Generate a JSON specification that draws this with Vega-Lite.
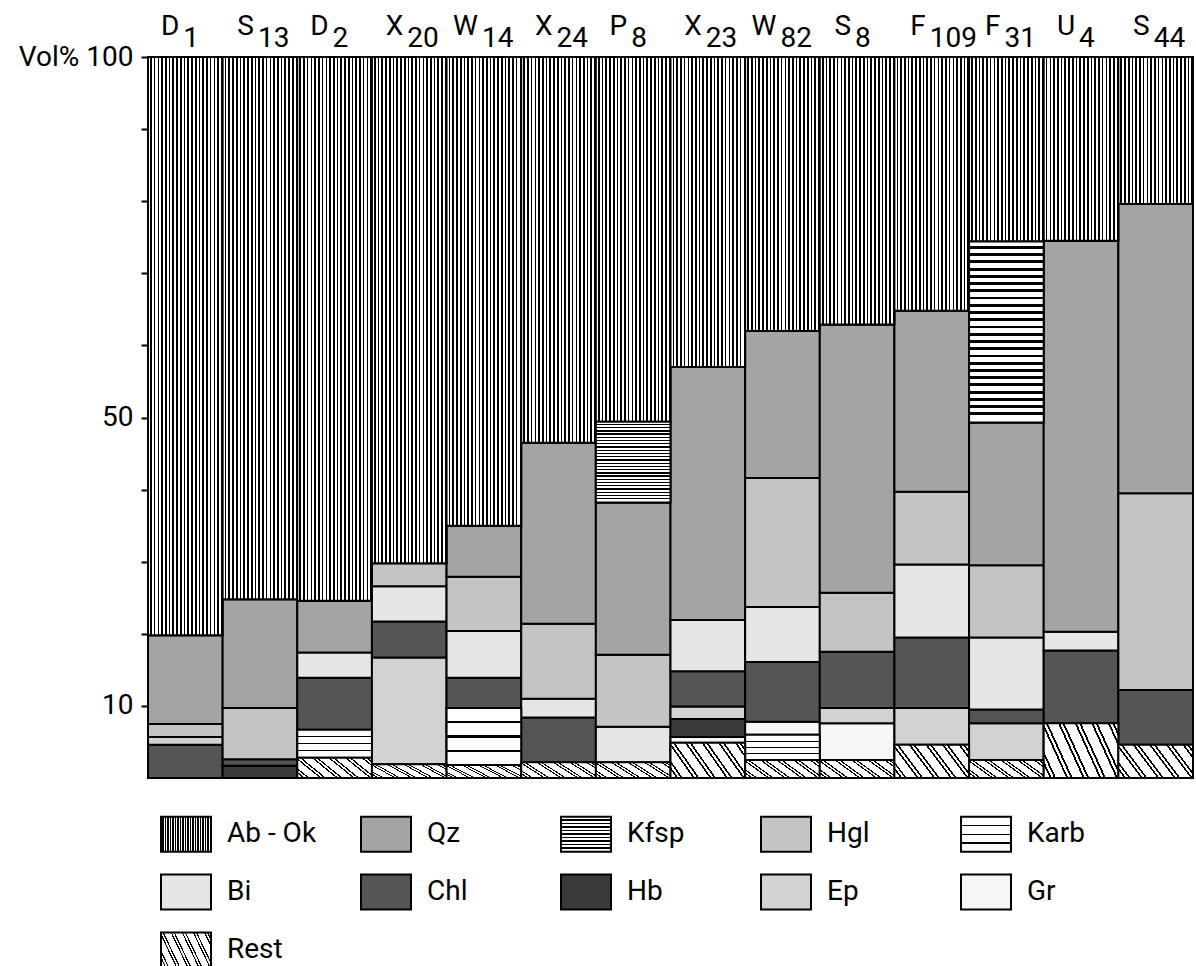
{
  "$schema": "https://vega.github.io/schema/vega-lite/v6.json",
  "width": 1045,
  "height": 721,
  "autosize": {"type": "none"},
  "padding": {"left": 148, "top": 57, "right": 3, "bottom": 188},
  "background": "white",
  "config": {"view": {"stroke": null}, "font": "Roboto"},
  "datasets": {
    "seg": [
      {"sample": "D1", "mineral": "Chl", "value": 4.6},
      {"sample": "D1", "mineral": "Ep", "value": 1.1},
      {"sample": "D1", "mineral": "Hgl", "value": 1.8},
      {"sample": "D1", "mineral": "Qz", "value": 12.3},
      {"sample": "D1", "mineral": "Ab - Ok", "value": 80.2},
      {"sample": "S13", "mineral": "Hb", "value": 1.7},
      {"sample": "S13", "mineral": "Chl", "value": 0.9},
      {"sample": "S13", "mineral": "Hgl", "value": 7.1},
      {"sample": "S13", "mineral": "Qz", "value": 15.1},
      {"sample": "S13", "mineral": "Ab - Ok", "value": 75.2},
      {"sample": "D2", "mineral": "Rest", "value": 2.8},
      {"sample": "D2", "mineral": "Karb", "value": 3.9},
      {"sample": "D2", "mineral": "Chl", "value": 7.2},
      {"sample": "D2", "mineral": "Bi", "value": 3.5},
      {"sample": "D2", "mineral": "Qz", "value": 7.2},
      {"sample": "D2", "mineral": "Ab - Ok", "value": 75.4},
      {"sample": "X20", "mineral": "Rest", "value": 1.9},
      {"sample": "X20", "mineral": "Ep", "value": 14.8},
      {"sample": "X20", "mineral": "Chl", "value": 5.0},
      {"sample": "X20", "mineral": "Bi", "value": 4.9},
      {"sample": "X20", "mineral": "Hgl", "value": 3.2},
      {"sample": "X20", "mineral": "Ab - Ok", "value": 70.2},
      {"sample": "W14", "mineral": "Rest", "value": 1.8},
      {"sample": "W14", "mineral": "Karb", "value": 7.9},
      {"sample": "W14", "mineral": "Chl", "value": 4.2},
      {"sample": "W14", "mineral": "Bi", "value": 6.5},
      {"sample": "W14", "mineral": "Hgl", "value": 7.5},
      {"sample": "W14", "mineral": "Qz", "value": 7.1},
      {"sample": "W14", "mineral": "Ab - Ok", "value": 65.0},
      {"sample": "X24", "mineral": "Rest", "value": 2.2},
      {"sample": "X24", "mineral": "Chl", "value": 6.2},
      {"sample": "X24", "mineral": "Bi", "value": 2.6},
      {"sample": "X24", "mineral": "Hgl", "value": 10.4},
      {"sample": "X24", "mineral": "Qz", "value": 25.1},
      {"sample": "X24", "mineral": "Ab - Ok", "value": 53.5},
      {"sample": "P8", "mineral": "Rest", "value": 2.2},
      {"sample": "P8", "mineral": "Bi", "value": 4.9},
      {"sample": "P8", "mineral": "Hgl", "value": 10.0},
      {"sample": "P8", "mineral": "Qz", "value": 21.1},
      {"sample": "P8", "mineral": "Kfsp", "value": 11.2},
      {"sample": "P8", "mineral": "Ab - Ok", "value": 50.6},
      {"sample": "X23", "mineral": "Rest", "value": 4.9},
      {"sample": "X23", "mineral": "Gr", "value": 0.8},
      {"sample": "X23", "mineral": "Hb", "value": 2.5},
      {"sample": "X23", "mineral": "Ep", "value": 1.7},
      {"sample": "X23", "mineral": "Chl", "value": 4.9},
      {"sample": "X23", "mineral": "Bi", "value": 7.1},
      {"sample": "X23", "mineral": "Qz", "value": 35.1},
      {"sample": "X23", "mineral": "Ab - Ok", "value": 43.0},
      {"sample": "W82", "mineral": "Rest", "value": 2.5},
      {"sample": "W82", "mineral": "Karb", "value": 3.5},
      {"sample": "W82", "mineral": "Gr", "value": 1.8},
      {"sample": "W82", "mineral": "Chl", "value": 8.3},
      {"sample": "W82", "mineral": "Bi", "value": 7.6},
      {"sample": "W82", "mineral": "Hgl", "value": 17.9},
      {"sample": "W82", "mineral": "Qz", "value": 20.4},
      {"sample": "W82", "mineral": "Ab - Ok", "value": 38.0},
      {"sample": "S8", "mineral": "Rest", "value": 2.5},
      {"sample": "S8", "mineral": "Gr", "value": 5.1},
      {"sample": "S8", "mineral": "Ep", "value": 2.1},
      {"sample": "S8", "mineral": "Chl", "value": 7.8},
      {"sample": "S8", "mineral": "Hgl", "value": 8.2},
      {"sample": "S8", "mineral": "Qz", "value": 37.2},
      {"sample": "S8", "mineral": "Ab - Ok", "value": 37.1},
      {"sample": "F109", "mineral": "Rest", "value": 4.6},
      {"sample": "F109", "mineral": "Ep", "value": 5.1},
      {"sample": "F109", "mineral": "Chl", "value": 9.8},
      {"sample": "F109", "mineral": "Bi", "value": 10.1},
      {"sample": "F109", "mineral": "Hgl", "value": 10.1},
      {"sample": "F109", "mineral": "Qz", "value": 25.1},
      {"sample": "F109", "mineral": "Ab - Ok", "value": 35.2},
      {"sample": "F31", "mineral": "Rest", "value": 2.5},
      {"sample": "F31", "mineral": "Ep", "value": 5.1},
      {"sample": "F31", "mineral": "Chl", "value": 1.9},
      {"sample": "F31", "mineral": "Bi", "value": 10.0},
      {"sample": "F31", "mineral": "Hgl", "value": 10.0},
      {"sample": "F31", "mineral": "Qz", "value": 19.8},
      {"sample": "F31", "mineral": "Kfsp", "value": 25.1},
      {"sample": "F31", "mineral": "Ab - Ok", "value": 25.6},
      {"sample": "U4", "mineral": "Rest", "value": 7.6},
      {"sample": "U4", "mineral": "Chl", "value": 10.1},
      {"sample": "U4", "mineral": "Bi", "value": 2.6},
      {"sample": "U4", "mineral": "Qz", "value": 54.2},
      {"sample": "U4", "mineral": "Ab - Ok", "value": 25.5},
      {"sample": "S44", "mineral": "Rest", "value": 4.6},
      {"sample": "S44", "mineral": "Chl", "value": 7.6},
      {"sample": "S44", "mineral": "Hgl", "value": 27.3},
      {"sample": "S44", "mineral": "Qz", "value": 40.1},
      {"sample": "S44", "mineral": "Ab - Ok", "value": 20.4}
    ],
    "lab": [
      {"sample": "D1", "letter": "D", "sub": "1"},
      {"sample": "S13", "letter": "S", "sub": "13"},
      {"sample": "D2", "letter": "D", "sub": "2"},
      {"sample": "X20", "letter": "X", "sub": "20"},
      {"sample": "W14", "letter": "W", "sub": "14"},
      {"sample": "X24", "letter": "X", "sub": "24"},
      {"sample": "P8", "letter": "P", "sub": "8"},
      {"sample": "X23", "letter": "X", "sub": "23"},
      {"sample": "W82", "letter": "W", "sub": "82"},
      {"sample": "S8", "letter": "S", "sub": "8"},
      {"sample": "F109", "letter": "F", "sub": "109"},
      {"sample": "F31", "letter": "F", "sub": "31"},
      {"sample": "U4", "letter": "U", "sub": "4"},
      {"sample": "S44", "letter": "S", "sub": "44"}
    ]
  },
  "layer": [
    {
      "data": {"name": "seg"},
      "transform": [
        {"window": [{"op": "row_number", "as": "idx"}]},
        {"stack": "value", "groupby": ["sample"], "sort": [{"field": "idx", "order": "ascending"}], "as": ["v0", "v1"]}
      ],
      "encoding": {
        "x": {
          "field": "sample", "type": "nominal",
          "sort": ["D1","S13","D2","X20","W14","X24","P8","X23","W82","S8","F109","F31","U4","S44"],
          "scale": {"paddingInner": 0, "paddingOuter": 0},
          "axis": null
        },
        "y": {
          "field": "v1", "type": "quantitative",
          "scale": {"domain": [0, 100], "nice": false},
          "axis": {
            "values": [10, 20, 30, 40, 50, 60, 70, 80, 90, 100],
            "title": null, "grid": false, "domain": false,
            "tickSize": 7, "tickWidth": 2, "tickColor": "black",
            "labelFontSize": 28, "labelFont": "Roboto", "labelColor": "black", "labelPadding": 8,
            "labelExpr": "datum.value == 100 ? 'Vol% 100' : (datum.value == 50 || datum.value == 10) ? datum.label : ''"
          }
        },
        "y2": {"field": "v0"}
      },
      "layer": [
        {
          "mark": {"type": "bar", "stroke": "black", "strokeWidth": 2, "opacity": 1},
          "encoding": {
            "color": {
              "field": "mineral", "type": "nominal",
              "scale": {
                "domain": ["Ab - Ok","Qz","Kfsp","Hgl","Karb","Bi","Chl","Hb","Ep","Gr","Rest"],
                "range": ["url(#gradient_0) #7a7a7a","#a4a4a4","url(#gradient_14) #a8a8a8","#c4c4c4","url(#gradient_16) #f0f0f0","#e6e6e6","#555555","#3a3a3a","#d2d2d2","#f6f6f6","url(#gradient_19) #dddddd"]
              },
              "legend": {
                "orient": "none", "legendX": 12, "legendY": 751,
                "direction": "horizontal", "columns": 5, "gridAlign": "all",
                "title": null, "padding": 0,
                "symbolType": "M-1,-0.7H1V0.7H-1Z", "symbolSize": 2500,
                "symbolStrokeColor": "black", "symbolStrokeWidth": 2, "symbolOpacity": 1,
                "labelFontSize": 28, "labelFont": "Roboto", "labelColor": "black",
                "labelOffset": 15, "columnPadding": 40, "rowPadding": 10, "labelLimit": 300,
                "encode": {
                  "symbols": {
                    "update": {
                      "stroke": {"value": "black"},
                      "strokeWidth": {"value": 2}
                    }
                  }
                }
              }
            }
          }
        },
        {
          "transform": [{"filter": "datum.mineral === 'Ab - Ok'"}],
          "mark": {"type": "bar", "stroke": "black", "strokeWidth": 2, "fill": {"gradient": "linear", "x1": 0, "y1": 0, "x2": 1, "y2": 0, "stops": [
            {"offset": 0, "color": "#fff"}, {"offset": 0.028, "color": "#fff"}, {"offset": 0.028, "color": "#000"}, {"offset": 0.05, "color": "#000"},
            {"offset": 0.05, "color": "#fff"}, {"offset": 0.078, "color": "#fff"}, {"offset": 0.078, "color": "#000"}, {"offset": 0.1, "color": "#000"},
            {"offset": 0.1, "color": "#fff"}, {"offset": 0.128, "color": "#fff"}, {"offset": 0.128, "color": "#000"}, {"offset": 0.15, "color": "#000"},
            {"offset": 0.15, "color": "#fff"}, {"offset": 0.178, "color": "#fff"}, {"offset": 0.178, "color": "#000"}, {"offset": 0.2, "color": "#000"},
            {"offset": 0.2, "color": "#fff"}, {"offset": 0.228, "color": "#fff"}, {"offset": 0.228, "color": "#000"}, {"offset": 0.25, "color": "#000"},
            {"offset": 0.25, "color": "#fff"}, {"offset": 0.278, "color": "#fff"}, {"offset": 0.278, "color": "#000"}, {"offset": 0.3, "color": "#000"},
            {"offset": 0.3, "color": "#fff"}, {"offset": 0.328, "color": "#fff"}, {"offset": 0.328, "color": "#000"}, {"offset": 0.35, "color": "#000"},
            {"offset": 0.35, "color": "#fff"}, {"offset": 0.378, "color": "#fff"}, {"offset": 0.378, "color": "#000"}, {"offset": 0.4, "color": "#000"},
            {"offset": 0.4, "color": "#fff"}, {"offset": 0.428, "color": "#fff"}, {"offset": 0.428, "color": "#000"}, {"offset": 0.45, "color": "#000"},
            {"offset": 0.45, "color": "#fff"}, {"offset": 0.478, "color": "#fff"}, {"offset": 0.478, "color": "#000"}, {"offset": 0.5, "color": "#000"},
            {"offset": 0.5, "color": "#fff"}, {"offset": 0.528, "color": "#fff"}, {"offset": 0.528, "color": "#000"}, {"offset": 0.55, "color": "#000"},
            {"offset": 0.55, "color": "#fff"}, {"offset": 0.578, "color": "#fff"}, {"offset": 0.578, "color": "#000"}, {"offset": 0.6, "color": "#000"},
            {"offset": 0.6, "color": "#fff"}, {"offset": 0.628, "color": "#fff"}, {"offset": 0.628, "color": "#000"}, {"offset": 0.65, "color": "#000"},
            {"offset": 0.65, "color": "#fff"}, {"offset": 0.678, "color": "#fff"}, {"offset": 0.678, "color": "#000"}, {"offset": 0.7, "color": "#000"},
            {"offset": 0.7, "color": "#fff"}, {"offset": 0.728, "color": "#fff"}, {"offset": 0.728, "color": "#000"}, {"offset": 0.75, "color": "#000"},
            {"offset": 0.75, "color": "#fff"}, {"offset": 0.778, "color": "#fff"}, {"offset": 0.778, "color": "#000"}, {"offset": 0.8, "color": "#000"},
            {"offset": 0.8, "color": "#fff"}, {"offset": 0.828, "color": "#fff"}, {"offset": 0.828, "color": "#000"}, {"offset": 0.85, "color": "#000"},
            {"offset": 0.85, "color": "#fff"}, {"offset": 0.878, "color": "#fff"}, {"offset": 0.878, "color": "#000"}, {"offset": 0.9, "color": "#000"},
            {"offset": 0.9, "color": "#fff"}, {"offset": 0.928, "color": "#fff"}, {"offset": 0.928, "color": "#000"}, {"offset": 0.95, "color": "#000"},
            {"offset": 0.95, "color": "#fff"}, {"offset": 0.978, "color": "#fff"}, {"offset": 0.978, "color": "#000"}, {"offset": 1, "color": "#000"}
          ]}},
          "encoding": {}
        },
        {
          "transform": [{"filter": "datum.mineral === 'Kfsp'"}],
          "mark": {"type": "bar", "stroke": "black", "strokeWidth": 2, "fill": {"gradient": "linear", "x1": 0, "y1": 0, "x2": 0, "y2": 1, "stops": [
            {"offset": 0, "color": "#fff"}, {"offset": 0.024, "color": "#fff"}, {"offset": 0.024, "color": "#000"}, {"offset": 0.04, "color": "#000"},
            {"offset": 0.04, "color": "#fff"}, {"offset": 0.064, "color": "#fff"}, {"offset": 0.064, "color": "#000"}, {"offset": 0.08, "color": "#000"},
            {"offset": 0.08, "color": "#fff"}, {"offset": 0.104, "color": "#fff"}, {"offset": 0.104, "color": "#000"}, {"offset": 0.12, "color": "#000"},
            {"offset": 0.12, "color": "#fff"}, {"offset": 0.144, "color": "#fff"}, {"offset": 0.144, "color": "#000"}, {"offset": 0.16, "color": "#000"},
            {"offset": 0.16, "color": "#fff"}, {"offset": 0.184, "color": "#fff"}, {"offset": 0.184, "color": "#000"}, {"offset": 0.2, "color": "#000"},
            {"offset": 0.2, "color": "#fff"}, {"offset": 0.224, "color": "#fff"}, {"offset": 0.224, "color": "#000"}, {"offset": 0.24, "color": "#000"},
            {"offset": 0.24, "color": "#fff"}, {"offset": 0.264, "color": "#fff"}, {"offset": 0.264, "color": "#000"}, {"offset": 0.28, "color": "#000"},
            {"offset": 0.28, "color": "#fff"}, {"offset": 0.304, "color": "#fff"}, {"offset": 0.304, "color": "#000"}, {"offset": 0.32, "color": "#000"},
            {"offset": 0.32, "color": "#fff"}, {"offset": 0.344, "color": "#fff"}, {"offset": 0.344, "color": "#000"}, {"offset": 0.36, "color": "#000"},
            {"offset": 0.36, "color": "#fff"}, {"offset": 0.384, "color": "#fff"}, {"offset": 0.384, "color": "#000"}, {"offset": 0.4, "color": "#000"},
            {"offset": 0.4, "color": "#fff"}, {"offset": 0.424, "color": "#fff"}, {"offset": 0.424, "color": "#000"}, {"offset": 0.44, "color": "#000"},
            {"offset": 0.44, "color": "#fff"}, {"offset": 0.464, "color": "#fff"}, {"offset": 0.464, "color": "#000"}, {"offset": 0.48, "color": "#000"},
            {"offset": 0.48, "color": "#fff"}, {"offset": 0.504, "color": "#fff"}, {"offset": 0.504, "color": "#000"}, {"offset": 0.52, "color": "#000"},
            {"offset": 0.52, "color": "#fff"}, {"offset": 0.544, "color": "#fff"}, {"offset": 0.544, "color": "#000"}, {"offset": 0.56, "color": "#000"},
            {"offset": 0.56, "color": "#fff"}, {"offset": 0.584, "color": "#fff"}, {"offset": 0.584, "color": "#000"}, {"offset": 0.6, "color": "#000"},
            {"offset": 0.6, "color": "#fff"}, {"offset": 0.624, "color": "#fff"}, {"offset": 0.624, "color": "#000"}, {"offset": 0.64, "color": "#000"},
            {"offset": 0.64, "color": "#fff"}, {"offset": 0.664, "color": "#fff"}, {"offset": 0.664, "color": "#000"}, {"offset": 0.68, "color": "#000"},
            {"offset": 0.68, "color": "#fff"}, {"offset": 0.704, "color": "#fff"}, {"offset": 0.704, "color": "#000"}, {"offset": 0.72, "color": "#000"},
            {"offset": 0.72, "color": "#fff"}, {"offset": 0.744, "color": "#fff"}, {"offset": 0.744, "color": "#000"}, {"offset": 0.76, "color": "#000"},
            {"offset": 0.76, "color": "#fff"}, {"offset": 0.784, "color": "#fff"}, {"offset": 0.784, "color": "#000"}, {"offset": 0.8, "color": "#000"},
            {"offset": 0.8, "color": "#fff"}, {"offset": 0.824, "color": "#fff"}, {"offset": 0.824, "color": "#000"}, {"offset": 0.84, "color": "#000"},
            {"offset": 0.84, "color": "#fff"}, {"offset": 0.864, "color": "#fff"}, {"offset": 0.864, "color": "#000"}, {"offset": 0.88, "color": "#000"},
            {"offset": 0.88, "color": "#fff"}, {"offset": 0.904, "color": "#fff"}, {"offset": 0.904, "color": "#000"}, {"offset": 0.92, "color": "#000"},
            {"offset": 0.92, "color": "#fff"}, {"offset": 0.944, "color": "#fff"}, {"offset": 0.944, "color": "#000"}, {"offset": 0.96, "color": "#000"},
            {"offset": 0.96, "color": "#fff"}, {"offset": 1, "color": "#fff"}
          ]}},
          "encoding": {}
        },
        {
          "transform": [{"filter": "datum.mineral === 'Karb'"}],
          "mark": {"type": "bar", "stroke": "black", "strokeWidth": 2, "fill": {"gradient": "linear", "x1": 0, "y1": 0, "x2": 0, "y2": 1, "stops": [
            {"offset": 0, "color": "#fff"}, {"offset": 0.23, "color": "#fff"}, {"offset": 0.23, "color": "#000"}, {"offset": 0.27, "color": "#000"},
            {"offset": 0.27, "color": "#fff"}, {"offset": 0.48, "color": "#fff"}, {"offset": 0.48, "color": "#000"}, {"offset": 0.52, "color": "#000"},
            {"offset": 0.52, "color": "#fff"}, {"offset": 0.73, "color": "#fff"}, {"offset": 0.73, "color": "#000"}, {"offset": 0.77, "color": "#000"},
            {"offset": 0.77, "color": "#fff"}, {"offset": 1, "color": "#fff"}
          ]}},
          "encoding": {}
        },
        {
          "transform": [{"filter": "datum.mineral === 'Rest'"}],
          "mark": {"type": "bar", "stroke": "black", "strokeWidth": 2, "fill": {"gradient": "linear", "x1": 0, "y1": 1, "x2": 1.2, "y2": 0.6, "stops": [
            {"offset": 0, "color": "#fff"}, {"offset": 0.06, "color": "#fff"}, {"offset": 0.06, "color": "#000"}, {"offset": 0.08, "color": "#000"}, {"offset": 0.08, "color": "#fff"}, {"offset": 0.105, "color": "#fff"}, {"offset": 0.105, "color": "#000"}, {"offset": 0.125, "color": "#000"}, {"offset": 0.125, "color": "#fff"},
            {"offset": 0.2267, "color": "#fff"}, {"offset": 0.2267, "color": "#000"}, {"offset": 0.2467, "color": "#000"}, {"offset": 0.2467, "color": "#fff"}, {"offset": 0.2717, "color": "#fff"}, {"offset": 0.2717, "color": "#000"}, {"offset": 0.2917, "color": "#000"}, {"offset": 0.2917, "color": "#fff"},
            {"offset": 0.3933, "color": "#fff"}, {"offset": 0.3933, "color": "#000"}, {"offset": 0.4133, "color": "#000"}, {"offset": 0.4133, "color": "#fff"}, {"offset": 0.4383, "color": "#fff"}, {"offset": 0.4383, "color": "#000"}, {"offset": 0.4583, "color": "#000"}, {"offset": 0.4583, "color": "#fff"},
            {"offset": 0.56, "color": "#fff"}, {"offset": 0.56, "color": "#000"}, {"offset": 0.58, "color": "#000"}, {"offset": 0.58, "color": "#fff"}, {"offset": 0.605, "color": "#fff"}, {"offset": 0.605, "color": "#000"}, {"offset": 0.625, "color": "#000"}, {"offset": 0.625, "color": "#fff"},
            {"offset": 0.7267, "color": "#fff"}, {"offset": 0.7267, "color": "#000"}, {"offset": 0.7467, "color": "#000"}, {"offset": 0.7467, "color": "#fff"}, {"offset": 0.7717, "color": "#fff"}, {"offset": 0.7717, "color": "#000"}, {"offset": 0.7917, "color": "#000"}, {"offset": 0.7917, "color": "#fff"},
            {"offset": 0.8933, "color": "#fff"}, {"offset": 0.8933, "color": "#000"}, {"offset": 0.9133, "color": "#000"}, {"offset": 0.9133, "color": "#fff"}, {"offset": 0.9383, "color": "#fff"}, {"offset": 0.9383, "color": "#000"}, {"offset": 0.9583, "color": "#000"}, {"offset": 0.9583, "color": "#fff"}, {"offset": 1, "color": "#fff"}
          ]}},
          "encoding": {}
        }
      ]
    },
    {
      "data": {"name": "lab"},
      "mark": {"type": "text", "align": "right", "baseline": "alphabetic", "dx": -6, "dy": -22, "fontSize": 28, "font": "Roboto", "color": "black"},
      "encoding": {
        "x": {"field": "sample", "type": "nominal", "sort": ["D1","S13","D2","X20","W14","X24","P8","X23","W82","S8","F109","F31","U4","S44"], "axis": null},
        "y": {"datum": 100, "type": "quantitative"},
        "text": {"field": "letter"}
      }
    },
    {
      "data": {"name": "lab"},
      "mark": {"type": "text", "align": "left", "baseline": "alphabetic", "dx": -2, "dy": -10, "fontSize": 28, "font": "Roboto", "color": "black"},
      "encoding": {
        "x": {"field": "sample", "type": "nominal", "sort": ["D1","S13","D2","X20","W14","X24","P8","X23","W82","S8","F109","F31","U4","S44"], "axis": null},
        "y": {"datum": 100, "type": "quantitative"},
        "text": {"field": "sub"}
      }
    }
  ]
}
